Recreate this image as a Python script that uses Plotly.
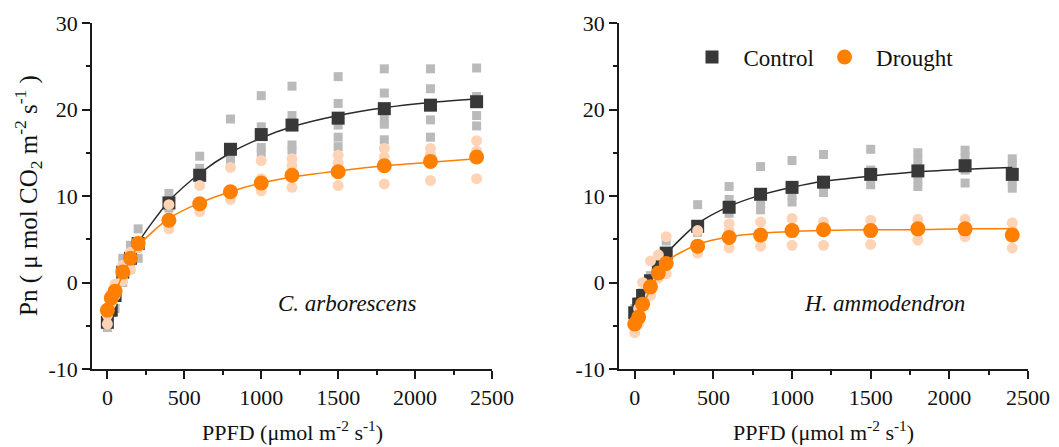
import plotly.graph_objects as go

# ---------------- data ----------------
ppfd = [0, 25, 50, 100, 150, 200, 400, 600, 800, 1000, 1200, 1500, 1800, 2100, 2400]

# C. arborescens
ca_ctrl_mean = [-4.6, -3.2, -1.5, 1.2, 2.8, 4.5, 9.2, 12.4, 15.4, 17.1, 18.2, 19.0, 20.1, 20.5, 20.9]
ca_drought_mean = [-3.2, -1.8, -1.0, 1.2, 2.8, 4.5, 7.2, 9.1, 10.5, 11.5, 12.4, 12.8, 13.5, 14.0, 14.5]
ca_ctrl_fit = [-4.2, -2.8, -1.5, 0.9, 2.9, 4.6, 9.4, 12.6, 15.0, 16.7, 18.0, 19.3, 20.2, 20.8, 21.2]
ca_drought_fit = [-3.4, -2.2, -1.2, 0.9, 2.7, 4.2, 7.4, 9.2, 10.5, 11.5, 12.2, 12.9, 13.5, 13.9, 14.3]
ca_ctrl_reps = [[-5.2, -4.0], [-3.5, -2.3], [-3.0, -1.0], [2.8, 0.0], [4.3, 1.5], [6.2, 2.8],
                [10.3, 8.6], [14.6, 13.2, 11.8], [18.9, 14.6, 14.2], [21.6, 18.0, 15.6, 15.0],
                [22.7, 19.3, 15.9, 15.3], [23.8, 20.7, 18.2, 16.8, 15.7], [24.7, 21.9, 19.0, 18.3, 16.5],
                [24.7, 22.4, 18.8, 16.8], [24.8, 21.5, 19.3, 18.1]]
ca_drought_reps = [[-4.8, -3.8], [-2.4, -1.3], [-1.5, -0.2], [0.2, 2.0], [1.5, 3.5], [4.0, 4.8],
                   [6.2, 9.0], [8.2, 11.2], [9.6, 13.3], [10.6, 12.0, 14.1], [11.0, 13.5, 14.3],
                   [11.2, 13.8, 14.7], [11.4, 14.5, 15.5], [11.8, 14.8, 15.5], [12.0, 15.2, 16.4]]

# H. ammodendron
ha_ctrl_mean = [-3.5, -2.5, -1.5, 0.2, 1.8, 3.4, 6.5, 8.7, 10.2, 11.0, 11.6, 12.5, 12.9, 13.5, 12.5]
ha_drought_mean = [-4.8, -4.0, -2.5, -0.5, 1.1, 2.2, 4.2, 5.2, 5.5, 6.0, 6.1, 6.0, 6.2, 6.2, 5.5]
ha_ctrl_fit = [-3.8, -2.6, -1.5, 0.4, 2.0, 3.3, 6.8, 8.8, 10.1, 11.0, 11.7, 12.3, 12.8, 13.1, 13.3]
ha_drought_fit = [-4.8, -3.8, -2.7, -0.8, 0.9, 2.4, 4.4, 5.3, 5.7, 5.9, 6.0, 6.1, 6.1, 6.2, 6.2]
ha_ctrl_reps = [[-4.5, -3.0], [-3.8, -2.2], [-2.5, -1.2], [-0.5, 0.8], [1.0, 2.2], [2.6, 4.8],
                [5.8, 9.0], [8.0, 9.6, 11.1], [8.4, 9.2, 13.4], [9.3, 10.1, 14.1], [10.4, 11.0, 14.8],
                [11.3, 13.0, 15.4], [11.1, 12.0, 14.1, 15.0], [11.5, 13.0, 14.4, 15.3],
                [10.9, 11.8, 13.5, 14.3]]
ha_drought_reps = [[-5.8, -4.5], [-4.8, -3.0], [-2.7, 0.0], [-1.5, 2.5], [0.5, 3.2], [1.0, 5.3],
                   [3.4, 6.0], [4.0, 6.0, 6.8], [4.2, 5.0, 7.0], [4.3, 6.2, 7.4], [4.3, 6.2, 7.0],
                   [4.4, 6.3, 7.2], [4.9, 6.0, 7.3], [5.3, 5.7, 7.3], [4.0, 6.0, 6.9]]

species = ["C. arborescens", "H. ammodendron"]
series_names = ["Control", "Drought"]
x_ticks = [0, 500, 1000, 1500, 2000, 2500]
x_ticktext = ["0", "500", "1000", "1500", "2000", "2500"]
y_ticks = [-10, 0, 10, 20, 30]
y_ticktext = ["-10", "0", "10", "20", "30"]

# ---------------- style ----------------
FONT = "Liberation Serif"
C_DARK = "#383838"
C_GRAY = "#bababa"
C_ORANGE = "#ff7f00"
C_PEACH = "#ffd4b6"


def flatten(xs, reps):
    fx, fy = [], []
    for x, r in zip(xs, reps):
        for v in r:
            fx.append(x)
            fy.append(v)
    return fx, fy


fig = go.Figure()

panels = [
    (ca_ctrl_mean, ca_drought_mean, ca_ctrl_fit, ca_drought_fit, ca_ctrl_reps, ca_drought_reps, "x", "y"),
    (ha_ctrl_mean, ha_drought_mean, ha_ctrl_fit, ha_drought_fit, ha_ctrl_reps, ha_drought_reps, "x2", "y2"),
]

for i, (cm, dm, cf, df, cr, dr, xa, ya) in enumerate(panels):
    show = (i == 1)
    rx, ry = flatten(ppfd, cr)
    fig.add_trace(go.Scatter(x=rx, y=ry, mode="markers", xaxis=xa, yaxis=ya, showlegend=False,
                             marker=dict(symbol="square", size=9, color=C_GRAY, line=dict(width=0))))
    fig.add_trace(go.Scatter(x=ppfd, y=cf, mode="lines", xaxis=xa, yaxis=ya, showlegend=False,
                             line=dict(color="#2a2a2a", width=1.5, shape="spline", smoothing=0.8)))
    fig.add_trace(go.Scatter(x=ppfd, y=cm, mode="markers", xaxis=xa, yaxis=ya, showlegend=show,
                             name="&nbsp;&nbsp;" + series_names[0] + "&nbsp;",
                             marker=dict(symbol="square", size=13, color=C_DARK, line=dict(width=0))))
    rx, ry = flatten(ppfd, dr)
    fig.add_trace(go.Scatter(x=rx, y=ry, mode="markers", xaxis=xa, yaxis=ya, showlegend=False,
                             marker=dict(symbol="circle", size=11, color=C_PEACH, line=dict(width=0))))
    fig.add_trace(go.Scatter(x=ppfd, y=df, mode="lines", xaxis=xa, yaxis=ya, showlegend=False,
                             line=dict(color=C_ORANGE, width=1.5, shape="spline", smoothing=0.8)))
    fig.add_trace(go.Scatter(x=ppfd, y=dm, mode="markers", xaxis=xa, yaxis=ya, showlegend=show,
                             name="&nbsp;&nbsp;" + series_names[1],
                             marker=dict(symbol="circle", size=15, color=C_ORANGE, line=dict(width=0))))

W, H = 1059, 447
xdom = [[92 / W, 492 / W], [619 / W, 1028 / W]]
ydom = [(H - 369) / H, (H - 23) / H]

axis_common = dict(showline=True, linewidth=1.5, linecolor="#1a1a1a", ticks="outside", ticklen=8,
                   tickwidth=1.5, tickcolor="#1a1a1a", showgrid=False, zeroline=False,
                   tickfont=dict(family=FONT, size=22, color="#111"), automargin=False)

layout_axes = {}
for k in range(2):
    xs = "xaxis" if k == 0 else "xaxis2"
    ys = "yaxis" if k == 0 else "yaxis2"
    layout_axes[xs] = dict(axis_common, domain=xdom[k], range=[-100, 2500], tickvals=x_ticks,
                           ticktext=x_ticktext, anchor="y" if k == 0 else "y2",
                           minor=dict(ticks="outside", ticklen=4, tickwidth=1.5, tickcolor="#1a1a1a",
                                      tick0=0, dtick=250))
    layout_axes[ys] = dict(axis_common, domain=ydom, range=[-10, 30], tickvals=y_ticks,
                           ticktext=y_ticktext, anchor="x" if k == 0 else "x2",
                           minor=dict(ticks="outside", ticklen=4, tickwidth=1.5, tickcolor="#1a1a1a",
                                      tick0=0, dtick=5))

annotations = []
for k in range(2):
    cx = (xdom[k][0] + xdom[k][1]) / 2
    annotations.append(dict(text="PPFD (μmol m<sup>-2</sup> s<sup>-1</sup>)", xref="paper", yref="paper",
                            x=cx, y=0, xanchor="center", yanchor="bottom", showarrow=False,
                            font=dict(family=FONT, size=22, color="#111")))
annotations.append(dict(text="<i>" + species[0] + "</i>", xref="paper", yref="paper",
                        x=347 / W, y=(H - 303) / H, xanchor="center", yanchor="middle", showarrow=False,
                        font=dict(family=FONT, size=23, color="#111")))
annotations.append(dict(text="<i>" + species[1] + "</i>", xref="paper", yref="paper",
                        x=884 / W, y=(H - 303) / H, xanchor="center", yanchor="middle", showarrow=False,
                        font=dict(family=FONT, size=23, color="#111")))
annotations.append(dict(text="Pn ( μ mol CO<sub>2</sub> m<sup>-2</sup> s<sup>-1</sup> )", xref="paper",
                        yref="paper", x=28 / W, y=(H - 196) / H, xanchor="center", yanchor="middle",
                        textangle=-90, showarrow=False, font=dict(family=FONT, size=25, color="#111")))

fig.update_layout(
    template="none",
    width=W, height=H,
    margin=dict(l=0, r=0, t=0, b=0),
    paper_bgcolor="white", plot_bgcolor="white",
    annotations=annotations,
    legend=dict(orientation="h", x=692 / W, y=(H - 57) / H, xanchor="left", yanchor="middle",
                font=dict(family=FONT, size=23, color="#111"), bgcolor="rgba(0,0,0,0)",
                itemclick=False),
    **layout_axes,
)

fig.write_html("out.html")
